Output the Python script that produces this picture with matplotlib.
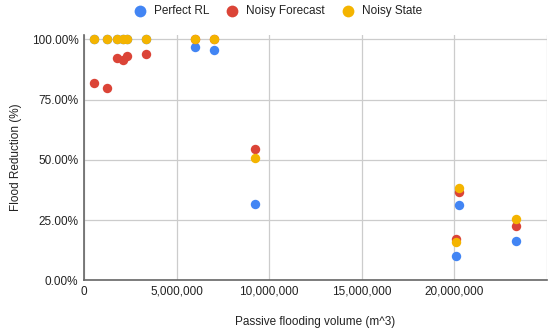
import matplotlib
matplotlib.use("Agg")
import matplotlib.pyplot as plt
from matplotlib.ticker import FuncFormatter

plt.rcParams['font.family'] = ['Liberation Sans', 'DejaVu Sans']

# Data (x = passive flooding volume m^3, y = flood reduction fraction)
x_perfect = [540000, 1260000, 1800000, 2120000, 2300000, 3330000, 6000000, 7040000, 9240000, 20100000, 20250000, 23300000]
y_perfect = [1.0, 1.0, 1.0, 1.0, 1.0, 1.0, 0.968, 0.955, 0.317, 0.101, 0.314, 0.162]

x_forecast = [540000, 1260000, 1800000, 2120000, 2300000, 3330000, 6000000, 7040000, 9240000, 20100000, 20250000, 23300000]
y_forecast = [0.82, 0.797, 0.924, 0.913, 0.929, 0.94, 1.0, 1.0, 0.545, 0.171, 0.366, 0.225]

x_state = [540000, 1260000, 1800000, 2120000, 2300000, 3330000, 6000000, 7040000, 9240000, 20100000, 20250000, 23300000]
y_state = [1.0, 1.0, 1.0, 1.0, 1.0, 1.0, 1.0, 1.0, 0.506, 0.159, 0.382, 0.253]

series_names = ["Perfect RL", "Noisy Forecast", "Noisy State"]
colors = ["#4285F4", "#DB4437", "#F4B400"]

x_ticks = [0, 5000000, 10000000, 15000000, 20000000]
y_ticks = [0, 0.25, 0.5, 0.75, 1.0]

fig = plt.figure(figsize=(5.5, 3.31), dpi=100)
ax = fig.add_axes([84/550, 1-280.3/331, (547-84)/550, (280.3-35)/331])

for xs, ys, name, c in zip([x_perfect, x_forecast, x_state],
                           [y_perfect, y_forecast, y_state], series_names, colors):
    ax.scatter(xs, ys, s=46, color=c, label=name, zorder=3, linewidths=0, clip_on=False)

ax.set_xlim(0, 25000000)
ax.set_ylim(0, 1.018)
ax.set_xticks(x_ticks)
ax.set_yticks(y_ticks)
ax.xaxis.set_major_formatter(FuncFormatter(lambda v, p: f"{int(v):,}"))
ax.yaxis.set_major_formatter(FuncFormatter(lambda v, p: f"{v*100:.2f}%"))
ax.grid(True, color="#cccccc", linewidth=0.9, zorder=0)
ax.axvline(25000000, color="#cccccc", linewidth=0.9, zorder=0)
ax.tick_params(length=0, labelsize=8.5, colors="#222222", pad=4)
for s in ["top", "right"]:
    ax.spines[s].set_visible(False)
for s in ["left", "bottom"]:
    ax.spines[s].set_color("#666666")
    ax.spines[s].set_linewidth(1.2)

ax.set_xlabel("Passive flooding volume (m^3)", fontsize=8.5, color="#222222", labelpad=13)
ax.set_ylabel("Flood Reduction (%)", fontsize=8.5, color="#222222", labelpad=7)

fig.legend(loc="center", bbox_to_anchor=(0.5, 1-11/331), ncol=3, frameon=False,
           fontsize=8.5, handletextpad=0.19, columnspacing=0.95, scatterpoints=1,
           markerscale=1.25, labelcolor="#222222")

fig.savefig("out.png", dpi=100)
